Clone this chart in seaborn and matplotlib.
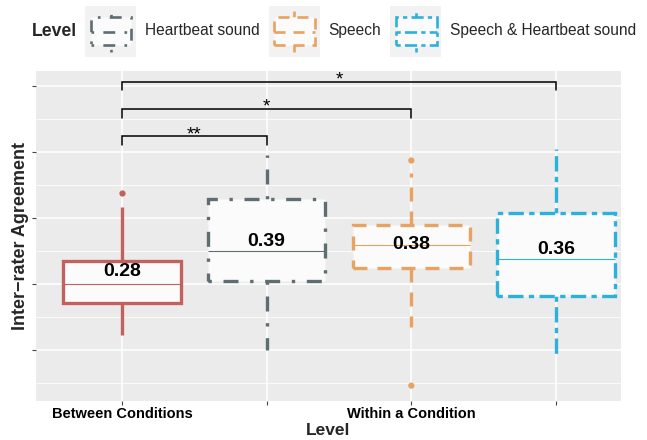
import pandas as pd
import seaborn as sns
import matplotlib.pyplot as plt
from matplotlib.legend_handler import HandlerBase
from matplotlib.patches import Rectangle, Patch
from matplotlib.lines import Line2D
from matplotlib.ticker import FixedLocator

# groups drawn on the x axis (one box each)
groups = ["Between Conditions", "Heartbeat sound", "Speech", "Speech & Heartbeat sound"]
tick_labels = ["Between Conditions", "", "Within a Condition", ""]

# box summaries
whisker_lo = [0.145, 0.100, 0.170, 0.076]
q1 = [0.242, 0.309, 0.348, 0.265]
median = [0.300, 0.400, 0.418, 0.376]
q3 = [0.370, 0.558, 0.479, 0.514]
whisker_hi = [0.533, 0.691, 0.635, 0.708]

# outlying points
outlier_group = ["Between Conditions", "Speech", "Speech"]
outlier_value = [0.577, 0.674, -0.008]

# printed labels and where they sit
box_labels = ["0.28", "0.39", "0.38", "0.36"]
label_y = [0.337, 0.428, 0.421, 0.403]

# significance brackets
bracket_from = [0, 0, 0]
bracket_to = [1, 2, 3]
bracket_y = [0.748, 0.830, 0.913]
bracket_stars = ["**", "*", "*"]

colors = ["#C3615F", "#5D6D72", "#E8A262", "#2CB1DD"]
styles = ["-", (0, (1, 3.5, 4.5, 3.5)), (0, (4.2, 3)), (0, (1.6, 1.6, 4.6, 1.6))]

rows = []
for g, a, b, c, d, e in zip(groups, whisker_lo, q1, median, q3, whisker_hi):
    for v in (a, b, c, d, e):
        rows.append({"group": g, "value": v})
df = pd.DataFrame(rows)
out_df = pd.DataFrame({"group": outlier_group, "value": outlier_value})

sns.set_theme(style="darkgrid")
plt.rcParams["font.family"] = ["Liberation Sans", "DejaVu Sans"]

fig = plt.figure(figsize=(6.47, 4.40), dpi=100)
ax = fig.add_axes([36 / 647, 1 - 401 / 440, 585 / 647, 330 / 440])
ax.set_facecolor("#EBEBEB")

pal = dict(zip(groups, colors))
sns.boxplot(data=df, x="group", y="value", hue="group", order=groups, hue_order=groups,
            palette=pal, whis=(0, 100), width=0.81, showcaps=False,
            linewidth=2.4, legend=False, ax=ax)

for cont, col, ls in zip(ax.containers, colors, styles):
    for b in cont.boxes:
        b.set_facecolor("#FBFBFB")
        b.set_edgecolor(col)
        b.set_linestyle(ls)
        b.set_linewidth(2.4)
        b.set_zorder(3)
    for w in cont.whiskers:
        w.set_color(col)
        w.set_linestyle(ls)
        w.set_linewidth(2.4)
        w.set_zorder(2)
    for m in cont.medians:
        m.set_color(col)
        m.set_linewidth(0.8)
        m.set_zorder(4)

sns.stripplot(data=out_df, x="group", y="value", hue="group", order=groups,
              hue_order=groups, palette=pal, jitter=False, size=4.5, legend=False,
              ax=ax, zorder=5)

for i, (t, y) in enumerate(zip(box_labels, label_y)):
    ax.text(i, y, t, ha="center", va="center", fontsize=14, fontweight="bold",
            color="black", zorder=6)

tip = 0.026
for a, b, h, s in zip(bracket_from, bracket_to, bracket_y, bracket_stars):
    ax.plot([a, a, b, b], [h - tip, h, h, h - tip], color="black", lw=1.1,
            solid_joinstyle="miter", zorder=6)
    ax.text((a + b) / 2, h - 0.009, s, ha="center", va="baseline", fontsize=13.5,
            color="black", zorder=6)

ax.set_xlim(-0.594, 3.449)
ax.set_ylim(-0.0545, 0.945)
ax.set_xticks(range(len(groups)))
ax.set_xticklabels(tick_labels, fontsize=10.5, fontweight="bold", color="black")
ax.yaxis.set_major_locator(FixedLocator([0.1, 0.3, 0.5, 0.7, 0.9]))
ax.yaxis.set_minor_locator(FixedLocator([0.0, 0.2, 0.4, 0.6, 0.8]))
ax.set_yticklabels([])
ax.grid(which="major", color="white", lw=1.1)
ax.grid(which="minor", axis="y", color="white", lw=0.55)
ax.tick_params(which="major", length=3, width=0.8, color="#444444", pad=1.0,
               bottom=True, left=True)
ax.tick_params(which="minor", length=0)
for sp in ax.spines.values():
    sp.set_visible(False)

ax.set_xlabel("Level", fontsize=12.5, fontweight="bold", labelpad=2)
ax.set_ylabel("Inter\u2212rater Agreement", fontsize=13, fontweight="bold")
ax.yaxis.set_label_coords(-0.012, 0.5)


class BoxKey(HandlerBase):
    def __init__(self, color, ls):
        super().__init__()
        self.color = color
        self.ls = ls

    def create_artists(self, legend, orig_handle, xd, yd, w, h, fontsize, trans):
        x0, y0 = -xd, -yd
        cx = x0 + w / 2
        lw = 1.9
        bg = Rectangle((x0, y0), w, h, facecolor="#F2F2F2", edgecolor="none", transform=trans)
        lo = Line2D([cx, cx], [y0 + 0.1 * h, y0 + 0.24 * h], color=self.color, lw=lw,
                    linestyle=self.ls, transform=trans)
        hi = Line2D([cx, cx], [y0 + 0.78 * h, y0 + 0.9 * h], color=self.color, lw=lw,
                    linestyle=self.ls, transform=trans)
        bx = Rectangle((x0 + 0.11 * w, y0 + 0.24 * h), 0.8 * w, 0.54 * h, facecolor="#FBFBFB",
                       edgecolor=self.color, lw=lw, linestyle=self.ls, transform=trans)
        md = Line2D([x0 + 0.11 * w, x0 + 0.91 * w], [y0 + 0.49 * h] * 2, color=self.color,
                    lw=lw, linestyle=self.ls, transform=trans)
        return [bg, lo, hi, bx, md]


handles = [Patch(label=g) for g in groups[1:]]
hmap = {hd: BoxKey(c, s) for hd, c, s in zip(handles, colors[1:], styles[1:])}
fs = 11.2
fs_px = fs * 100 / 72
fig.legend(handles=handles, handler_map=hmap, ncol=3, loc="center left",
           bbox_to_anchor=(85 / 647, 1 - 31.3 / 440), frameon=False, borderpad=0,
           borderaxespad=0, fontsize=fs, handlelength=51 / fs_px,
           handleheight=4.66, handletextpad=0.56, columnspacing=0.6)
fig.text(31.7 / 647, 1 - 31.3 / 440, "Level", fontsize=12.7, fontweight="bold",
         ha="left", va="center")

fig.savefig("out.png", dpi=100)
